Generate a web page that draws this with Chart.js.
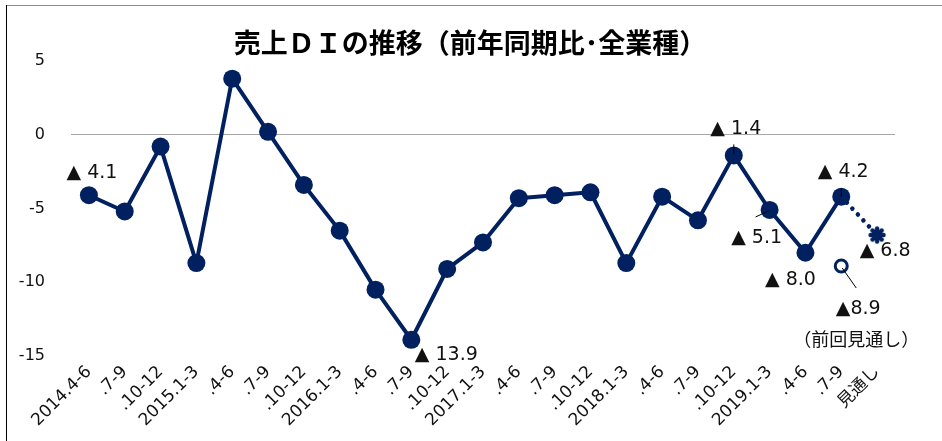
<!DOCTYPE html>
<html>
<head>
<meta charset="utf-8">
<script src="https://cdn.jsdelivr.net/npm/chart.js@4"></script>
<style>
  html, body { margin: 0; padding: 0; background: #fff; }
  #wrap { position: relative; width: 942px; height: 441px; }
</style>
</head>
<body>
<div id="wrap"><canvas id="diChart" width="942" height="441"></canvas></div>
<script>
// quarter labels
const categories = ['2014.4-6', '.7-9', '.10-12', '2015.1-3', '.4-6', '.7-9', '.10-12',
    '2016.1-3', '.4-6', '.7-9', '.10-12', '2017.1-3', '.4-6', '.7-9', '.10-12',
    '2018.1-3', '.4-6', '.7-9', '.10-12', '2019.1-3', '.4-6', '.7-9', '見通し'];

// sales DI (last point = outlook)
const salesDI = [-4.1, -5.2, -0.8, -8.7, 3.8, 0.2, -3.4, -6.5, -10.5, -13.9, -9.1, -7.3,
    -4.3, -4.1, -3.9, -8.7, -4.2, -5.8, -1.4, -5.1, -8.0, -4.2, -6.8];

// previous outlook for .7-9
const prevOutlook = [null, null, null, null, null, null, null, null, null, null, null, null,
    null, null, null, null, null, null, null, null, null, -8.9, null];

const yTickValues = [5, 0, -5, -10, -15];

// value notes shown next to points
const noteIndex = [0, 9, 18, 19, 20, 21, 22];
const noteText = ['▲ 4.1', '▲ 13.9', '▲ 1.4', '▲ 5.1', '▲ 8.0', '▲ 4.2', '▲ 6.8'];
const prevNoteText = ['▲8.9', '（前回見通し）'];

const NAVY = '#002060';
const lastIdx = salesDI.length - 1;

// small gear-like marker for the outlook point
function makeOutlookMarker() {
    const c = document.createElement('canvas');
    c.width = 20; c.height = 20;
    const g = c.getContext('2d');
    g.fillStyle = NAVY;
    g.beginPath();
    g.arc(10, 10, 6, 0, Math.PI * 2);
    g.fill();
    for (let i = 0; i < 8; i++) {
        const a = i * Math.PI / 4;
        g.beginPath();
        g.arc(10 + Math.cos(a) * 6.5, 10 + Math.sin(a) * 6.5, 2.2, 0, Math.PI * 2);
        g.fill();
    }
    return c;
}

const pointStyles = salesDI.map((v, i) => i === lastIdx ? makeOutlookMarker() : 'circle');
const pointRadii = salesDI.map((v, i) => i === lastIdx ? 8 : 9);

const noteOffsets = {0: [3, -22], 9: [35, 15], 18: [2, -26], 19: [-13, 28], 20: [-15, 27], 21: [2, -25], 22: [8, 16]};

const decorPlugin = {
    id: 'decor',
    beforeDraw(chart) {
        const ctx = chart.ctx;
        ctx.save();
        ctx.fillStyle = '#fff';
        ctx.fillRect(0, 0, chart.width, chart.height);
        // frame
        ctx.lineWidth = 1;
        ctx.strokeStyle = '#8c8c8c';
        ctx.beginPath();
        ctx.moveTo(6, 5.5);
        ctx.lineTo(chart.width, 5.5);
        ctx.stroke();
        ctx.strokeStyle = '#000';
        ctx.beginPath();
        ctx.moveTo(6.5, 5);
        ctx.lineTo(6.5, chart.height);
        ctx.stroke();
        // title
        ctx.fillStyle = '#000';
        ctx.font = "bold 27px 'Noto Sans CJK JP', sans-serif";
        ctx.textAlign = 'center';
        ctx.textBaseline = 'middle';
        ctx.fillText('売上ＤＩの推移（前年同期比･全業種）', 470, 43);
        ctx.restore();
    },
    afterDatasetsDraw(chart) {
        const ctx = chart.ctx;
        const xs = chart.scales.x, ys = chart.scales.y;
        const px = i => xs.getPixelForValue(i);
        const py = v => ys.getPixelForValue(v);
        ctx.save();
        ctx.fillStyle = '#111';
        ctx.textAlign = 'center';
        ctx.textBaseline = 'middle';
        ctx.font = "19px 'DejaVu Sans', sans-serif";
        noteIndex.forEach((idx, k) => {
            const off = noteOffsets[idx];
            ctx.fillText(noteText[k], px(idx) + off[0], py(salesDI[idx]) + off[1]);
        });
        const pi = prevOutlook.findIndex(v => v !== null);
        const pX = px(pi), pY = py(prevOutlook[pi]);
        ctx.fillText(prevNoteText[0], pX + 17, pY + 43);
        ctx.font = "18px 'Noto Sans CJK JP', sans-serif";
        ctx.fillText(prevNoteText[1], pX + 15, pY + 73);

        // leader lines
        ctx.strokeStyle = '#000';
        ctx.lineWidth = 1;
        const seg = (x1, y1, x2, y2) => {
            ctx.beginPath(); ctx.moveTo(x1, y1); ctx.lineTo(x2, y2); ctx.stroke();
        };
        seg(px(18), py(salesDI[18]) - 11, px(18), py(salesDI[18]) - 1);
        seg(px(21), py(salesDI[21]) - 8, px(21), py(salesDI[21]));
        seg(px(19) - 14, py(salesDI[19]) + 7, px(19) - 1, py(salesDI[19]) + 1);
        seg(pX + 1, pY + 2, pX + 15, pY + 22);
        ctx.restore();
    }
};

const ctx = document.getElementById('diChart').getContext('2d');
new Chart(ctx, {
    type: 'line',
    data: {
        labels: categories,
        datasets: [{
            label: '売上DI',
            data: salesDI,
            borderColor: NAVY,
            backgroundColor: NAVY,
            borderWidth: 4,
            borderCapStyle: 'round',
            borderJoinStyle: 'round',
            pointStyle: pointStyles,
            pointRadius: pointRadii,
            pointBorderWidth: 0,
            pointBackgroundColor: NAVY,
            tension: 0,
            segment: {
                borderDash: c => c.p1DataIndex === lastIdx ? [0.1, 8] : undefined,
                borderWidth: c => c.p1DataIndex === lastIdx ? 4.5 : undefined
            }
        }, {
            label: '前回見通し',
            data: prevOutlook,
            showLine: false,
            pointStyle: 'circle',
            pointRadius: 6,
            pointBorderWidth: 3,
            pointBorderColor: NAVY,
            pointBackgroundColor: '#fff'
        }]
    },
    options: {
        responsive: false,
        animation: false,
        layout: { padding: { top: 61, right: 47, left: 0, bottom: 0 } },
        plugins: {
            legend: { display: false },
            title: { display: false },
            tooltip: { enabled: false }
        },
        scales: {
            x: {
                offset: true,
                grid: { display: false, drawTicks: false },
                border: { display: false },
                ticks: {
                    autoSkip: false,
                    minRotation: 45,
                    maxRotation: 45,
                    padding: 6,
                    color: '#111',
                    font: { family: "'DejaVu Sans', 'Noto Sans CJK JP', sans-serif", size: 17 }
                },
                afterFit: s => { s.height = 85; }
            },
            y: {
                min: -15,
                max: 5,
                afterBuildTicks: s => { s.ticks = yTickValues.map(v => ({ value: v })); },
                grid: {
                    drawTicks: false,
                    color: c => c.tick && c.tick.value === 0 ? '#a6a6a6' : 'rgba(0,0,0,0)',
                    lineWidth: 1
                },
                border: { display: false },
                ticks: {
                    padding: 26,
                    color: '#111',
                    font: { family: "'DejaVu Sans', sans-serif", size: 16 }
                },
                afterFit: s => { s.width = 71; }
            }
        }
    },
    plugins: [decorPlugin]
});
</script>
</body>
</html>
